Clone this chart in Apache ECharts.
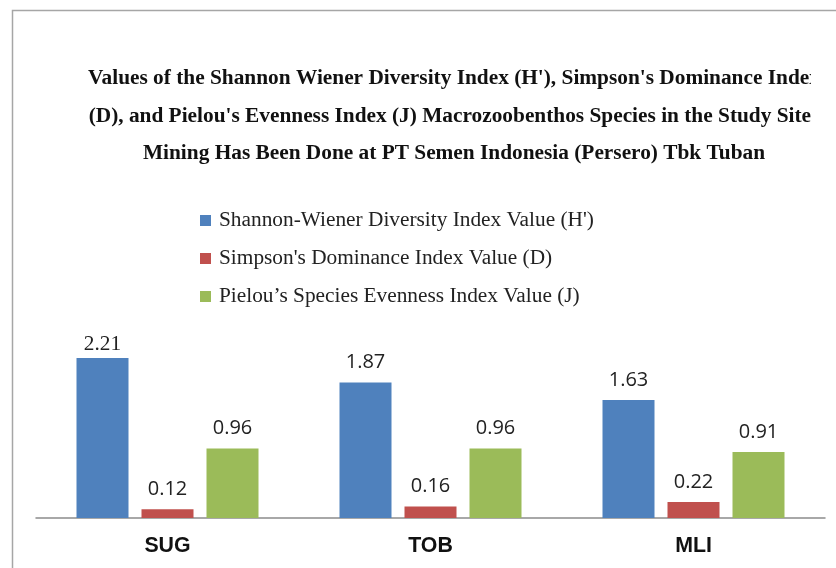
<!DOCTYPE html>
<html><head><meta charset="utf-8">
<script src="https://cdn.jsdelivr.net/npm/echarts@6/dist/echarts.min.js"></script>
<style>html,body{margin:0;padding:0;background:#fff}#c{width:836px;height:568px}</style>
</head><body><div id="c"></div>
<script>
const categories = ['SUG', 'TOB', 'MLI'];
const seriesNames = [
  "Shannon-Wiener Diversity Index Value (H')",
  "Simpson's Dominance Index Value (D)",
  "Pielou\u2019s Species Evenness Index Value (J)"
];
const shannon = [2.21, 1.87, 1.63];
const simpson = [0.12, 0.16, 0.22];
const pielou = [0.96, 0.96, 0.91];
const colors = ['#4F81BD', '#C0504D', '#9BBB59'];
const titleText = "Values of the Shannon Wiener Diversity Index (H'), Simpson's Dominance Index\n(D), and Pielou's Evenness Index (J) Macrozoobenthos Species in the Study Sites\nMining Has Been Done at PT Semen Indonesia (Persero) Tbk Tuban";

const chart = echarts.init(document.getElementById('c'));
const valueLabel = {
  show: true, position: 'top', distance: 10,
  fontFamily: 'Open Sans, Liberation Sans, sans-serif', fontSize: 20, color: '#222',
  formatter: p => p.value.toFixed(2)
};
const serifLabel = {fontFamily: 'Liberation Serif, serif', fontSize: 21.33, distance: 3, color: '#222'};
const datas = [shannon, simpson, pielou];
chart.setOption({
  animation: false,
  color: colors,
  graphic: [
    {type: 'rect', z: 100, shape: {x: 811, y: 40, width: 30, height: 130}, style: {fill: '#fff'}, silent: true},
    {type: 'rect', z: 101, shape: {x: 12.5, y: 10.5, width: 1000, height: 700},
     style: {fill: 'none', stroke: '#a6a6a6', lineWidth: 1.5}, silent: true}
  ],
  title: {
    text: titleText, left: 449, top: 55, textAlign: 'center',
    textStyle: {fontFamily: 'Liberation Serif, serif', fontWeight: 'bold', fontSize: 21.33, lineHeight: 37.5, color: '#111'}
  },
  legend: {
    orient: 'vertical', left: 195, top: 205, itemWidth: 11, itemHeight: 11, itemGap: 17,
    icon: 'rect', align: 'left',
    textStyle: {fontFamily: 'Liberation Serif, serif', fontSize: 21.33, color: '#222', padding: [0, 0, 0, 3]}
  },
  grid: {left: 36, right: 11, top: 337, bottom: 50, containLabel: false},
  xAxis: {
    type: 'category', data: categories,
    axisLine: {lineStyle: {color: '#8c8c8c', width: 1.5}},
    axisTick: {show: false},
    axisLabel: {fontFamily: 'Liberation Sans, Arial, sans-serif', fontWeight: 'bold', fontSize: 21.33, color: '#111', margin: 18}
  },
  yAxis: {type: 'value', min: 0, max: 2.5, show: false, splitLine: {show: false}},
  series: seriesNames.map((n, i) => ({
    name: n, type: 'bar', barWidth: 52, barGap: '25%',
    data: datas[i].map((v, j) => (i === 0 && j === 0) ? {value: v, label: serifLabel} : v),
    itemStyle: {color: colors[i]}, label: valueLabel
  }))
});
</script></body></html>
